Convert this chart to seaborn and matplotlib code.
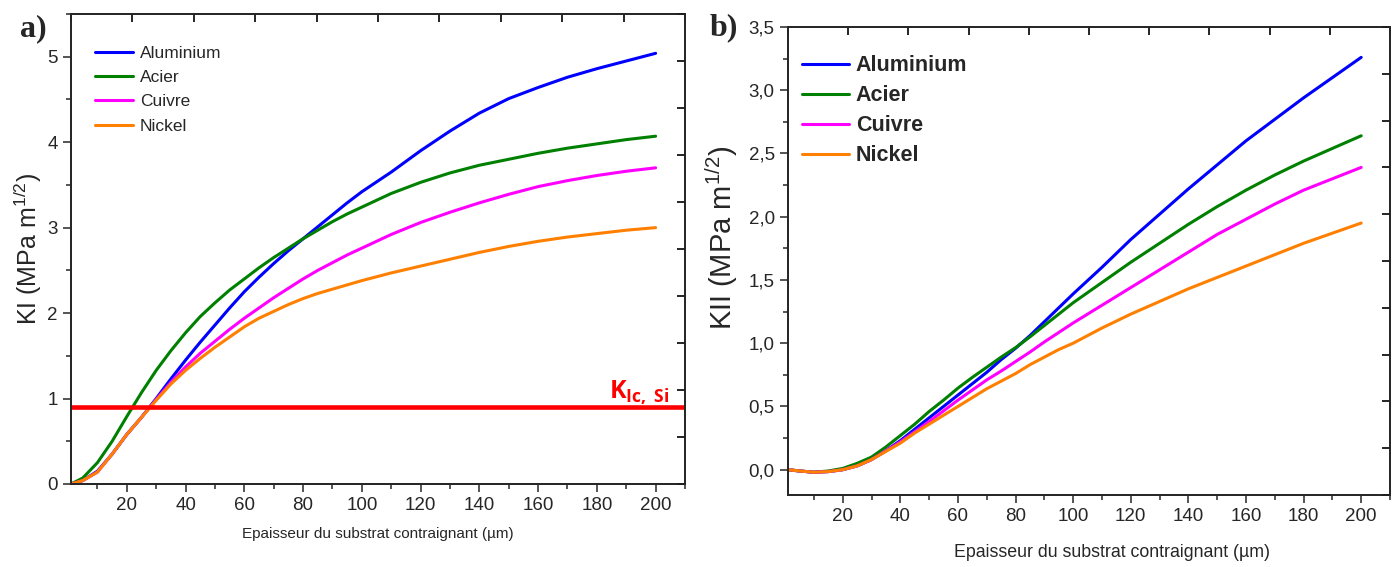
import numpy as np
import pandas as pd
import matplotlib
matplotlib.use('Agg')
from matplotlib import pyplot as plt
from matplotlib.ticker import MultipleLocator, FuncFormatter, NullLocator, FixedLocator
import seaborn as sns

# epaisseur du substrat contraignant (um)
epaisseur = [1, 5, 10, 15, 20, 25, 30, 35, 40, 45, 50, 55, 60, 65, 70, 75, 80, 85, 90, 95, 100,
             110, 120, 130, 140, 150, 160, 170, 180, 190, 200]

materiaux = ['Aluminium', 'Acier', 'Cuivre', 'Nickel']
couleurs = ['#0000FF', '#008000', '#FF00FF', '#FF8000']

# a) KI (MPa m^1/2)
ki_aluminium = [0, 0.04, 0.15, 0.35, 0.58, 0.78, 1.00, 1.23, 1.45, 1.66, 1.86, 2.06, 2.25,
                2.42, 2.58, 2.73, 2.87, 3.01, 3.15, 3.29, 3.42,
                3.65, 3.90, 4.13, 4.34, 4.51, 4.64, 4.76, 4.86, 4.95, 5.04]
ki_acier = [0, 0.07, 0.25, 0.50, 0.79, 1.07, 1.33, 1.56, 1.77, 1.96, 2.12, 2.27, 2.40,
            2.53, 2.65, 2.76, 2.87, 2.97, 3.07, 3.16, 3.24,
            3.40, 3.53, 3.64, 3.73, 3.80, 3.87, 3.93, 3.98, 4.03, 4.07]
ki_cuivre = [0, 0.04, 0.14, 0.35, 0.58, 0.78, 0.99, 1.19, 1.37, 1.53, 1.67, 1.81, 1.94,
             2.06, 2.18, 2.29, 2.40, 2.50, 2.59, 2.68, 2.76,
             2.92, 3.06, 3.18, 3.29, 3.39, 3.48, 3.55, 3.61, 3.66, 3.70]
ki_nickel = [0, 0.04, 0.14, 0.35, 0.58, 0.78, 0.98, 1.17, 1.33, 1.47, 1.60, 1.72, 1.84,
             1.94, 2.02, 2.10, 2.17, 2.23, 2.28, 2.33, 2.38,
             2.47, 2.55, 2.63, 2.71, 2.78, 2.84, 2.89, 2.93, 2.97, 3.00]
kic_si = 0.9

# b) KII (MPa m^1/2)
kii_aluminium = [0, -0.01, -0.02, -0.015, 0.0, 0.03, 0.08, 0.15, 0.23, 0.32, 0.41, 0.50, 0.59,
                 0.68, 0.77, 0.87, 0.96, 1.06, 1.17, 1.28, 1.39,
                 1.60, 1.82, 2.02, 2.22, 2.41, 2.60, 2.77, 2.94, 3.10, 3.26]
kii_acier = [0, -0.01, -0.02, -0.01, 0.01, 0.05, 0.10, 0.18, 0.27, 0.36, 0.46, 0.55, 0.645,
             0.73, 0.81, 0.89, 0.965, 1.05, 1.14, 1.23, 1.32,
             1.48, 1.64, 1.79, 1.94, 2.08, 2.21, 2.33, 2.44, 2.54, 2.64]
kii_cuivre = [0, -0.01, -0.02, -0.015, 0.0, 0.03, 0.08, 0.15, 0.22, 0.30, 0.38, 0.465, 0.55,
              0.63, 0.71, 0.78, 0.855, 0.93, 1.01, 1.085, 1.16,
              1.30, 1.44, 1.58, 1.72, 1.86, 1.98, 2.10, 2.21, 2.30, 2.39]
kii_nickel = [0, -0.01, -0.02, -0.015, 0.0, 0.03, 0.08, 0.145, 0.21, 0.29, 0.36, 0.43, 0.50,
              0.57, 0.64, 0.70, 0.76, 0.83, 0.89, 0.95, 1.00,
              1.12, 1.23, 1.33, 1.43, 1.52, 1.61, 1.70, 1.79, 1.87, 1.95]

df_ki = pd.DataFrame({
    'epaisseur': epaisseur * 4,
    'K': ki_aluminium + ki_acier + ki_cuivre + ki_nickel,
    'materiau': np.repeat(materiaux, len(epaisseur)),
})
df_kii = pd.DataFrame({
    'epaisseur': epaisseur * 4,
    'K': kii_aluminium + kii_acier + kii_cuivre + kii_nickel,
    'materiau': np.repeat(materiaux, len(epaisseur)),
})

sns.set_style('ticks')
plt.rcParams['font.family'] = ['Liberation Sans', 'DejaVu Sans']
plt.rcParams['mathtext.fontset'] = 'custom'
plt.rcParams['mathtext.rm'] = 'Liberation Sans'
plt.rcParams['mathtext.it'] = 'Liberation Sans:italic'
plt.rcParams['mathtext.bf'] = 'Open Sans:bold'
plt.rcParams['axes.linewidth'] = 1.1
plt.rcParams['xtick.top'] = True
plt.rcParams['ytick.right'] = True

fig = plt.figure(figsize=(13.99, 5.67), dpi=100)
ax1 = fig.add_axes([71 / 1399, 1 - 484 / 567, 614 / 1399, 470 / 567])
ax2 = fig.add_axes([788 / 1399, 1 - 495 / 567, 602 / 1399, 468 / 567])


def mirror_ticks(ax):
    # ticks du haut et de droite, vers l'interieur, 10 divisions, sans etiquettes
    tx = ax.twiny()
    tx.set_xlim(0, 1)
    tx.xaxis.set_major_locator(FixedLocator(np.linspace(0, 1, 11)))
    tx.xaxis.set_minor_locator(NullLocator())
    tx.xaxis.set_ticks_position('top')
    tx.tick_params(axis='x', which='major', direction='in', length=6, width=1.2,
                   color='black', labeltop=False, labelbottom=False)
    ty = ax.twinx()
    ty.set_ylim(0, 1)
    ty.yaxis.set_major_locator(FixedLocator(np.linspace(0, 1, 11)))
    ty.yaxis.set_minor_locator(NullLocator())
    ty.yaxis.set_ticks_position('right')
    ty.tick_params(axis='y', which='major', direction='in', length=6, width=1.2,
                   color='black', labelright=False, labelleft=False)
    # seulement les ticks du bas/gauche pour l'axe principal
    ax.tick_params(top=False, right=False, which='both')


# ---- a) KI
sns.lineplot(data=df_ki, x='epaisseur', y='K', hue='materiau', hue_order=materiaux,
             palette=couleurs, linewidth=2.2, errorbar=None, ax=ax1)
ax1.axhline(kic_si, color='#FF0000', linewidth=3.3, zorder=5)
ax1.text(184, 1.0, r'$\mathbf{K_{Ic,\ Si}}$', color='#FF0000', fontsize=18,
         ha='left', va='baseline')
ax1.set_xlim(1, 210)
ax1.set_ylim(0, 5.5)
ax1.xaxis.set_major_locator(MultipleLocator(20))
ax1.xaxis.set_minor_locator(MultipleLocator(10))
ax1.yaxis.set_major_locator(MultipleLocator(1))
ax1.yaxis.set_minor_locator(MultipleLocator(0.5))
ax1.tick_params(axis='both', which='major', direction='out', length=6, width=1.1, labelsize=13.5)
ax1.tick_params(axis='both', which='minor', direction='out', length=3.5, width=1.1)
ax1.set_xlabel('Epaisseur du substrat contraignant (µm)', fontsize=11)
ax1.xaxis.set_label_coords(0.5, -0.092)
ax1.set_ylabel(r'KI (MPa m$^{1/2}$)', fontsize=18)
ax1.yaxis.set_label_coords(-0.044, 0.5)
ax1.legend(loc='upper left', bbox_to_anchor=(0.039, 0.932), frameon=False,
           prop={'family': 'Liberation Sans', 'size': 12.5},
           handlelength=2.2, handletextpad=0.4, labelspacing=0.52,
           borderpad=0, borderaxespad=0)
mirror_ticks(ax1)

# ---- b) KII
sns.lineplot(data=df_kii, x='epaisseur', y='K', hue='materiau', hue_order=materiaux,
             palette=couleurs, linewidth=2.2, errorbar=None, ax=ax2)
ax2.set_xlim(1, 210)
ax2.set_ylim(-0.2, 3.5)
ax2.xaxis.set_major_locator(MultipleLocator(20))
ax2.xaxis.set_minor_locator(MultipleLocator(10))
ax2.yaxis.set_major_locator(MultipleLocator(0.5))
ax2.yaxis.set_minor_locator(MultipleLocator(0.25))
ax2.yaxis.set_major_formatter(FuncFormatter(lambda v, p: f'{v:.1f}'.replace('.', ',')))
ax2.tick_params(axis='both', which='major', direction='out', length=6, width=1.1, labelsize=13.5)
ax2.tick_params(axis='both', which='minor', direction='out', length=3.5, width=1.1)
ax2.set_xlabel('Epaisseur du substrat contraignant (µm)', fontsize=12.8)
ax2.xaxis.set_label_coords(0.538, -0.105)
ax2.set_ylabel(r'KII (MPa m$^{1/2}$)', fontsize=21)
ax2.yaxis.set_label_coords(-0.08, 0.55)
ax2.legend(loc='upper left', bbox_to_anchor=(0.023, 0.94), frameon=False,
           prop={'family': 'Liberation Sans', 'weight': 'bold', 'size': 15.5},
           handlelength=2.2, handletextpad=0.3, labelspacing=0.42,
           borderpad=0, borderaxespad=0)
mirror_ticks(ax2)

fig.text(20 / 1399, 1 - 36 / 567, 'a)', fontfamily='Liberation Serif', fontweight='bold',
         fontsize=23, va='baseline')
fig.text(710 / 1399, 1 - 35 / 567, 'b)', fontfamily='Liberation Serif', fontweight='bold',
         fontsize=23, va='baseline')

fig.savefig('out.png', dpi=100)
